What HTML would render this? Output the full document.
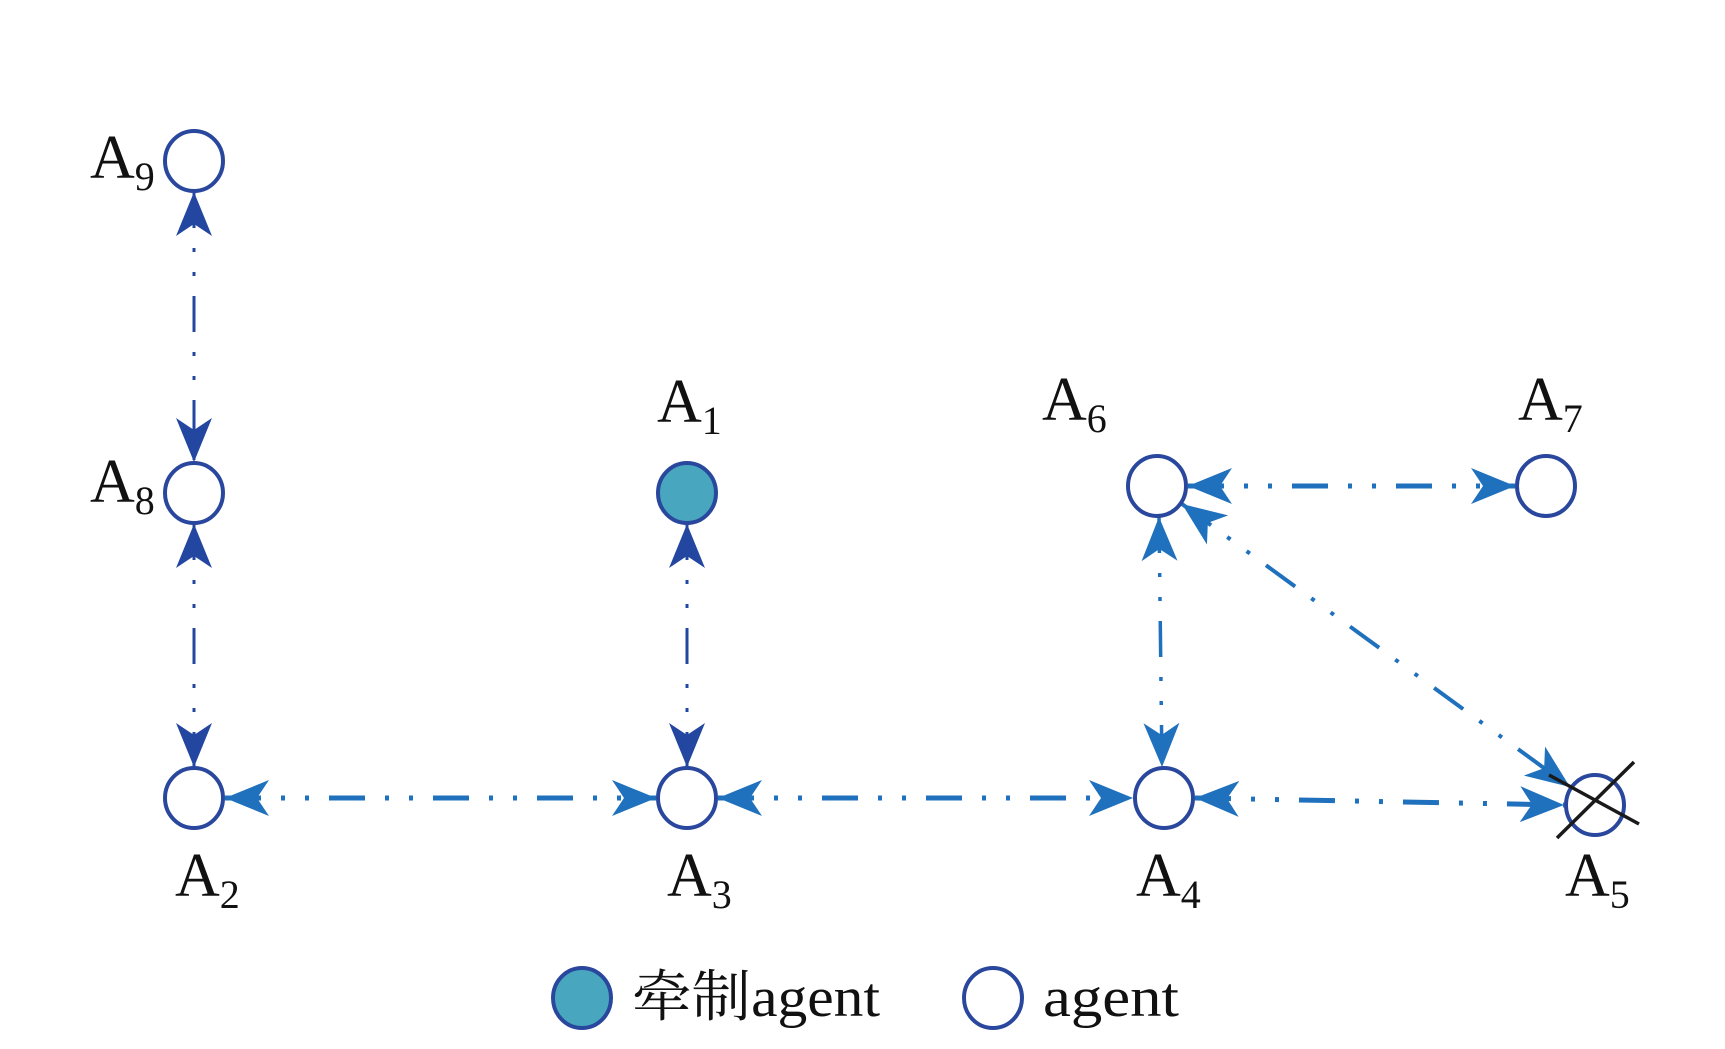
<!DOCTYPE html>
<html><head><meta charset="utf-8"><style>
html,body{margin:0;padding:0;background:#fff}
svg{display:block}
text{font-family:"Liberation Serif","Noto Serif CJK SC",serif;fill:#111}
</style></head><body>
<svg width="1725" height="1049" viewBox="0 0 1725 1049" xmlns="http://www.w3.org/2000/svg">
<defs>
<marker id="mb" viewBox="-48 -22 50 44" markerWidth="50" markerHeight="44" refX="0" refY="0" orient="auto-start-reverse" markerUnits="userSpaceOnUse">
<path d="M0,0 L-44,-18 L-32,0 L-44,18 Z" fill="#2347a0"/></marker>
<marker id="ml" viewBox="-48 -22 50 44" markerWidth="50" markerHeight="44" refX="0" refY="0" orient="auto-start-reverse" markerUnits="userSpaceOnUse">
<path d="M0,0 L-44,-18 L-32,0 L-44,18 Z" fill="#1f70bd"/></marker>
</defs>
<g fill="none" stroke-dasharray="36 20 4 20 4 20">
<line x1="194" y1="192" x2="194" y2="462" stroke="#2347a0" stroke-width="3" marker-start="url(#mb)" marker-end="url(#mb)"/>
<line x1="194" y1="524" x2="194" y2="767" stroke="#2347a0" stroke-width="3" marker-start="url(#mb)" marker-end="url(#mb)"/>
<line x1="687" y1="524" x2="687" y2="767" stroke="#2347a0" stroke-width="3" marker-start="url(#mb)" marker-end="url(#mb)"/>
<line x1="225" y1="798" x2="656" y2="798" stroke="#1f70bd" stroke-width="5" marker-start="url(#ml)" marker-end="url(#ml)"/>
<line x1="718" y1="798" x2="1133" y2="798" stroke="#1f70bd" stroke-width="5" marker-start="url(#ml)" marker-end="url(#ml)"/>
<line x1="1195" y1="798" x2="1564" y2="805" stroke="#1f70bd" stroke-width="5" marker-start="url(#ml)" marker-end="url(#ml)"/>
<line x1="1188" y1="486" x2="1515" y2="486" stroke="#1f70bd" stroke-width="5" marker-start="url(#ml)" marker-end="url(#ml)"/>
<line x1="1159" y1="517" x2="1162" y2="767" stroke="#1f70bd" stroke-width="3.5" marker-start="url(#ml)" marker-end="url(#ml)"/>
<line x1="1182" y1="504" x2="1570" y2="787" stroke="#1f70bd" stroke-width="4" marker-start="url(#ml)" marker-end="url(#ml)"/>
</g>
<g stroke="#2a479e" stroke-width="4" fill="#fff">
<ellipse cx="194" cy="161" rx="29" ry="30"/>
<ellipse cx="194" cy="493" rx="29" ry="30"/>
<ellipse cx="687" cy="493" rx="29" ry="30" fill="#48a6bf"/>
<ellipse cx="194" cy="798" rx="29" ry="30"/>
<ellipse cx="687" cy="798" rx="29" ry="30"/>
<ellipse cx="1164" cy="798" rx="29" ry="30"/>
<ellipse cx="1595" cy="805" rx="29" ry="30"/>
<ellipse cx="1157" cy="486" rx="29" ry="30"/>
<ellipse cx="1546" cy="486" rx="29" ry="30"/>
<ellipse cx="582" cy="998" rx="29" ry="30" fill="#48a6bf"/>
<ellipse cx="993" cy="998" rx="29" ry="30"/>
</g>
<g stroke="#1a1a1a" stroke-width="3.5">
<line x1="1549" y1="775" x2="1639" y2="824"/>
<line x1="1557" y1="838" x2="1634" y2="762"/>
</g>
<g font-size="62">
<text x="90" y="178">A<tspan font-size="40" dy="12">9</tspan></text>
<text x="90" y="502">A<tspan font-size="40" dy="12">8</tspan></text>
<text x="657" y="422">A<tspan font-size="40" dy="12">1</tspan></text>
<text x="1042" y="420">A<tspan font-size="40" dy="12">6</tspan></text>
<text x="1518" y="420">A<tspan font-size="40" dy="12">7</tspan></text>
<text x="175" y="896">A<tspan font-size="40" dy="12">2</tspan></text>
<text x="667" y="896">A<tspan font-size="40" dy="12">3</tspan></text>
<text x="1136" y="896">A<tspan font-size="40" dy="12">4</tspan></text>
<text x="1565" y="896">A<tspan font-size="40" dy="12">5</tspan></text>
</g>
<g font-size="56">
<text x="632" y="1016" textLength="248" lengthAdjust="spacingAndGlyphs">牵制agent</text>
<text x="1043" y="1016" textLength="136" lengthAdjust="spacingAndGlyphs">agent</text>
</g>
</svg>
</body></html>
